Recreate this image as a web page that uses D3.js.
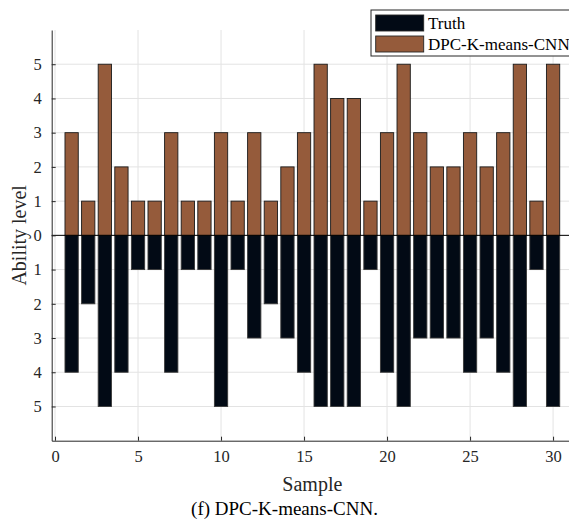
<!DOCTYPE html>
<html>
<head>
<meta charset="utf-8">
<script src="https://cdn.jsdelivr.net/npm/d3@7"></script>
<style>
  html, body { margin: 0; padding: 0; background: #fff; overflow: hidden; }
  svg, svg text { font-family: "Liberation Serif", "Times New Roman", serif !important; }
</style>
</head>
<body>
<div id="chart"></div>
<script>
const samples = d3.range(1, 31);
const predicted = [3,1,5,2,1,1,3,1,1,3,1,3,1,2,3,5,4,4,1,3,5,3,2,2,3,2,3,5,1,5];
const truth =     [4,2,5,4,1,1,4,1,1,5,1,3,2,3,4,5,5,5,1,4,5,3,3,3,4,3,4,5,1,5];
const xTicks = [0,5,10,15,20,25,30];
const yTicks = [-5,-4,-3,-2,-1,0,1,2,3,4,5];
const seriesNames = ["Truth", "DPC-K-means-CNN"];
const colors = ["#020a15", "#955b3b"];

(function () {
const W = 569, H = 520;
const mLeft = 51.7, mRight = 573, mTop = 30, mBottom = 440.7;
const svg = d3.select("#chart").append("svg").attr("width", W).attr("height", H);

const x = d3.scaleLinear().domain([-0.2, 31.2]).range([mLeft, mRight]);
const y = d3.scaleLinear().domain([-6, 6]).range([mBottom, mTop]);
const bw = x(0.8) - x(0);

// grid
svg.append("g").selectAll("line").data(xTicks).join("line")
  .attr("x1", d => x(d)).attr("x2", d => x(d)).attr("y1", mTop).attr("y2", mBottom)
  .attr("stroke", "#e3e3e3").attr("stroke-width", 1);
svg.append("g").selectAll("line").data(yTicks).join("line")
  .attr("x1", mLeft).attr("x2", mRight).attr("y1", d => y(d)).attr("y2", d => y(d))
  .attr("stroke", "#e3e3e3").attr("stroke-width", 1);

// bars
svg.append("g").selectAll("rect").data(samples).join("rect")
  .attr("x", (d) => x(d) - bw / 2).attr("width", bw)
  .attr("y", y(0)).attr("height", (d, i) => y(-truth[i]) - y(0))
  .attr("fill", colors[0]).attr("stroke", "#3a3a3a").attr("stroke-width", 0.9);
svg.append("g").selectAll("rect").data(samples).join("rect")
  .attr("x", (d) => x(d) - bw / 2).attr("width", bw)
  .attr("y", (d, i) => y(predicted[i])).attr("height", (d, i) => y(0) - y(predicted[i]))
  .attr("fill", colors[1]).attr("stroke", "#1a1a1a").attr("stroke-width", 0.9);

// baseline
svg.append("line").attr("x1", mLeft).attr("x2", mRight).attr("y1", y(0)).attr("y2", y(0))
  .attr("stroke", "#000").attr("stroke-width", 1);

// axes
const xAxis = d3.axisBottom(x).tickValues(xTicks).tickSizeInner(-4).tickSizeOuter(0).tickPadding(10);
const gx = svg.append("g").attr("transform", `translate(0,${mBottom})`).call(xAxis)
  .attr("font-family", "Liberation Serif, serif").attr("font-size", 16.5);
gx.select(".domain").attr("stroke", "#262626").attr("stroke-width", 1);
gx.selectAll(".tick line").attr("stroke", "#262626");
gx.selectAll("text").attr("fill", "#262626");

const yAxis = d3.axisLeft(y).tickValues(yTicks).tickSizeInner(-4).tickSizeOuter(0).tickPadding(10)
  .tickFormat(d => Math.abs(d));
const gy = svg.append("g").attr("transform", `translate(${mLeft},0)`).call(yAxis)
  .attr("font-family", "Liberation Serif, serif").attr("font-size", 16.5);
gy.select(".domain").attr("stroke", "#262626").attr("stroke-width", 1);
gy.selectAll(".tick line").attr("stroke", "#262626");
gy.selectAll("text").attr("fill", "#262626");

// axis labels
svg.append("text").attr("x", (mLeft + mRight) / 2).attr("y", 491)
  .attr("text-anchor", "middle").attr("font-size", 20).attr("fill", "#262626").text("Sample");
svg.append("text").attr("transform", `translate(26,${(mTop + mBottom) / 2}) rotate(-90)`)
  .attr("text-anchor", "middle").attr("font-size", 20).attr("fill", "#262626").text("Ability level");
svg.append("text").attr("x", W / 2).attr("y", 515)
  .attr("text-anchor", "middle").attr("font-size", 19).attr("fill", "#000").text("(f) DPC-K-means-CNN.");

// legend
const lg = svg.append("g");
lg.append("rect").attr("x", 371).attr("y", 10).attr("width", 200).attr("height", 46)
  .attr("fill", "#fff").attr("stroke", "#262626").attr("stroke-width", 1);
seriesNames.forEach((name, i) => {
  lg.append("rect").attr("x", 375.7).attr("y", 15 + i * 21).attr("width", 48).attr("height", 16)
    .attr("fill", colors[i]).attr("stroke", "#262626").attr("stroke-width", 0.9);
  lg.append("text").attr("x", 428).attr("y", 28.5 + i * 21).attr("font-size", 17)
    .attr("fill", "#000").text(name);
});
})();
</script>
</body>
</html>
